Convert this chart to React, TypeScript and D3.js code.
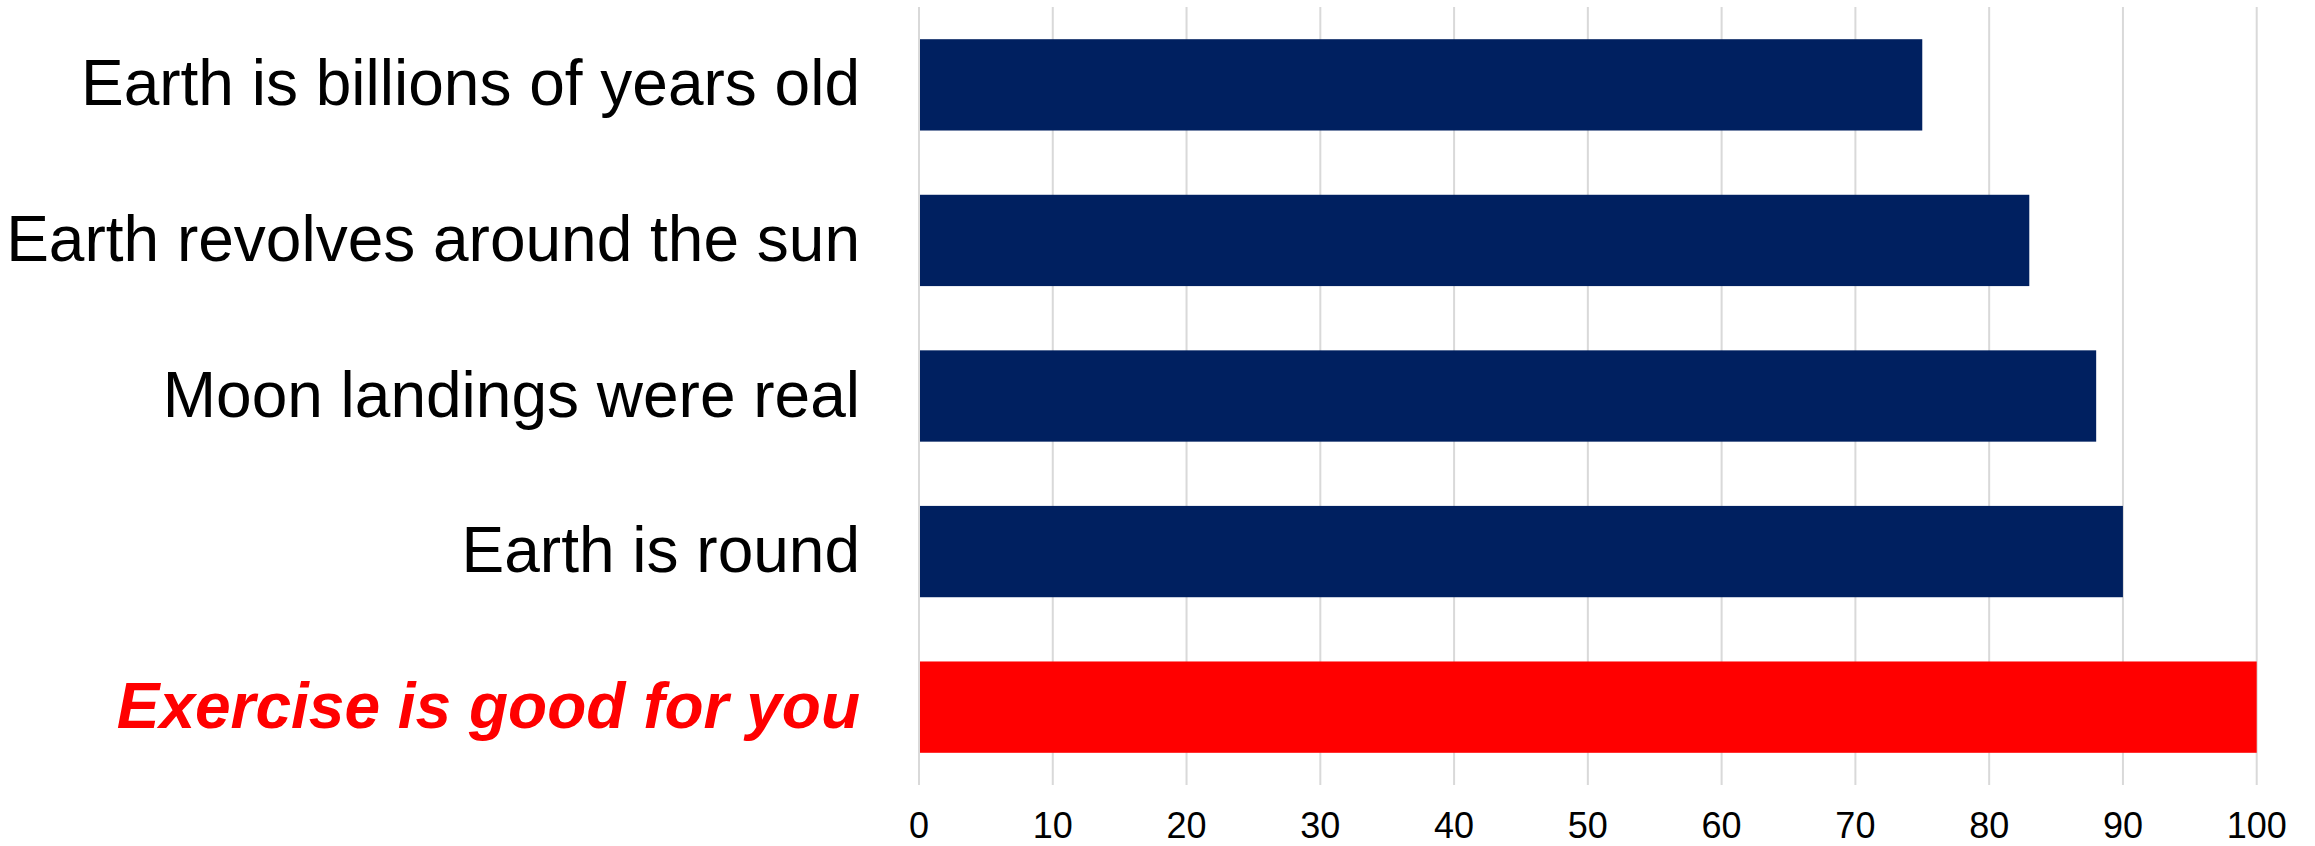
import React from "react";
import * as d3 from "d3";

const categories = [
  "Earth is billions of years old",
  "Earth revolves around the sun",
  "Moon landings were real",
  "Earth is round",
  "Exercise is good for you",
];
const values = [75, 83, 88, 90, 100];
const highlight = [false, false, false, false, true];
const ticks = [0, 10, 20, 30, 40, 50, 60, 70, 80, 90, 100];

const W = 2315;
const H = 846;
const FONT = "'Liberation Sans', Arial, Helvetica, sans-serif";

export default function App() {
  const x = d3.scaleLinear().domain([0, 100]).range([919, 2256.7]);
  const y = d3
    .scaleBand<string>()
    .domain(categories)
    .range([7, 785])
    .paddingInner(0.413)
    .paddingOuter(0.207);

  return (
    <svg
      width={W}
      height={H}
      style={{ position: "absolute", left: 0, top: 0, background: "#fff" }}
    >
      <g>
        {ticks.map((t) => (
          <line
            key={"g" + t}
            x1={x(t)}
            x2={x(t)}
            y1={7}
            y2={785}
            stroke="#d9d9d9"
            strokeWidth={2}
          />
        ))}
      </g>
      <g>
        {categories.map((c, i) => (
          <rect
            key={c}
            x={x(0) + 1}
            y={y(c)}
            width={x(values[i]) - x(0) - 1}
            height={y.bandwidth()}
            fill={highlight[i] ? "#ff0000" : "#002060"}
          />
        ))}
      </g>
      <g>
        {categories.map((c, i) => (
          <text
            key={"l" + c}
            x={860}
            y={(y(c) as number) + y.bandwidth() / 2 + 20.5}
            textAnchor="end"
            fontFamily={FONT}
            fontSize={64}
            fontWeight={highlight[i] ? "bold" : "normal"}
            fontStyle={highlight[i] ? "italic" : "normal"}
            fill={highlight[i] ? "#ff0000" : "#000"}
          >
            {c}
          </text>
        ))}
      </g>
      <g>
        {ticks.map((t) => (
          <text
            key={"t" + t}
            x={x(t)}
            y={837.5}
            textAnchor="middle"
            fontFamily={FONT}
            fontSize={36}
            fill="#000"
          >
            {t}
          </text>
        ))}
      </g>
    </svg>
  );
}
